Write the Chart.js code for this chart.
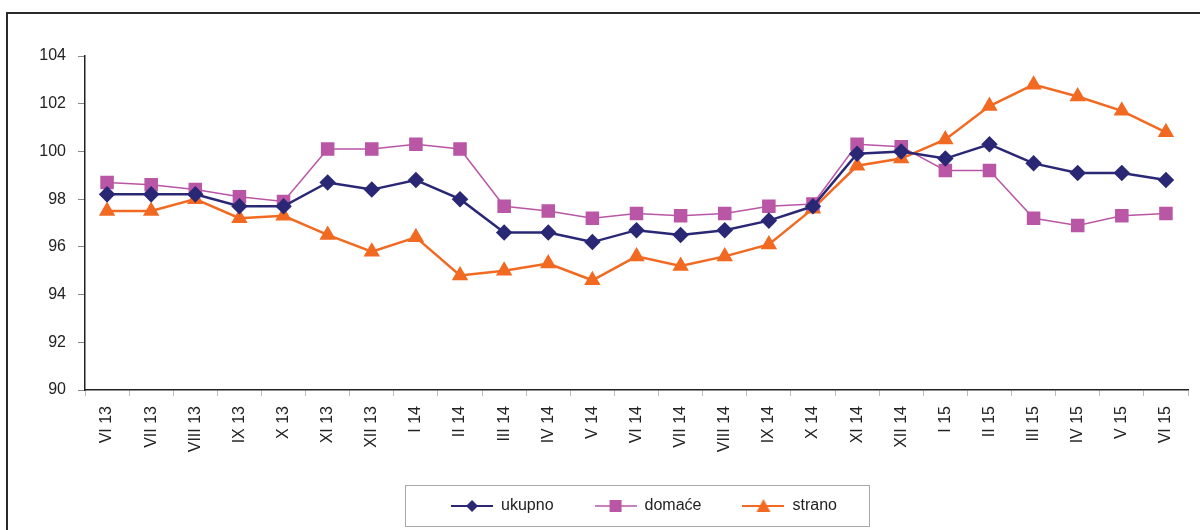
<!DOCTYPE html>
<html>
<head>
<meta charset="utf-8">
<script src="https://cdn.jsdelivr.net/npm/chart.js@4.4.1/dist/chart.umd.min.js"></script>
<style>
  body { margin: 0; background: #fff; }
  #wrap { position: relative; width: 1200px; height: 530px; overflow: hidden; }
  #frame { position: absolute; left: 6px; top: 12px; width: 1200px; height: 600px; border: 2px solid #2a2a2a; box-sizing: border-box; }
  #chart { position: absolute; left: 0; top: 0; }
</style>
</head>
<body>
<div id="wrap">
  <div id="frame"></div>
  <canvas id="chart" width="1200" height="530"></canvas>
</div>
<script>
const months = ['VI 13', 'VII 13', 'VIII 13', 'IX 13', 'X 13', 'XI 13', 'XII 13', 'I 14', 'II 14', 'III 14', 'IV 14', 'V 14',
    'VI 14', 'VII 14', 'VIII 14', 'IX 14', 'X 14', 'XI 14', 'XII 14', 'I 15', 'II 15', 'III 15', 'IV 15', 'V 15', 'VI 15'];

const ukupno = [98.2, 98.2, 98.2, 97.7, 97.7, 98.7, 98.4, 98.8, 98.0, 96.6, 96.6, 96.2,
    96.7, 96.5, 96.7, 97.1, 97.7, 99.9, 100.0, 99.7, 100.3, 99.5, 99.1, 99.1, 98.8];
const domace = [98.7, 98.6, 98.4, 98.1, 97.9, 100.1, 100.1, 100.3, 100.1, 97.7, 97.5, 97.2,
    97.4, 97.3, 97.4, 97.7, 97.8, 100.3, 100.2, 99.2, 99.2, 97.2, 96.9, 97.3, 97.4];
const strano = [97.5, 97.5, 98.0, 97.2, 97.3, 96.5, 95.8, 96.4, 94.8, 95.0, 95.3, 94.6,
    95.6, 95.2, 95.6, 96.1, 97.6, 99.4, 99.7, 100.5, 101.9, 102.8, 102.3, 101.7, 100.8];

const colors = { ukupno: '#2a2875', domace: '#b956a5', strano: '#f26a22' };

// small legend icon: line with marker in the middle
function legendIcon(color, style, lineW) {
    const c = document.createElement('canvas');
    c.width = 42; c.height = 14;
    const g = c.getContext('2d');
    g.strokeStyle = color; g.lineWidth = lineW;
    g.beginPath(); g.moveTo(0, 7); g.lineTo(42, 7); g.stroke();
    g.fillStyle = color;
    g.beginPath();
    if (style === 'diamond') {
        g.moveTo(21, 1); g.lineTo(27, 7); g.lineTo(21, 13); g.lineTo(15, 7);
    } else if (style === 'square') {
        g.rect(15, 1, 12, 12);
    } else {
        g.moveTo(21, 0); g.lineTo(28, 13); g.lineTo(14, 13);
    }
    g.closePath(); g.fill();
    return c;
}

const icons = [
    legendIcon(colors.ukupno, 'diamond', 2),
    legendIcon(colors.domace, 'square', 1.5),
    legendIcon(colors.strano, 'triangle', 2)
];

// nudge the legend to the right and frame it like the original
const legendBox = {
    id: 'legendBox',
    afterLayout(chart) {
        chart.legend.left += 50;
        chart.legend.right += 50;
    },
    afterDraw(chart) {
        const boxes = chart.legend.legendHitBoxes;
        if (!boxes || !boxes.length) return;
        const ctx = chart.ctx;
        const left = boxes[0].left - 46;
        const midY = boxes[0].top + boxes[0].height / 2;
        ctx.save();
        ctx.strokeStyle = '#a8a8a8';
        ctx.lineWidth = 1;
        ctx.strokeRect(Math.round(left) + 0.5, Math.round(midY - 21) + 0.5, 464, 41);
        ctx.restore();
    }
};

new Chart(document.getElementById('chart'), {
    type: 'line',
    data: {
        labels: months,
        datasets: [{
            label: 'ukupno',
            data: ukupno,
            borderColor: colors.ukupno,
            backgroundColor: colors.ukupno,
            borderWidth: 2.5,
            pointStyle: 'rectRot',
            pointRadius: 6.5,
            pointHoverRadius: 6.5
        }, {
            label: 'domaće',
            data: domace,
            borderColor: colors.domace,
            backgroundColor: colors.domace,
            borderWidth: 1.5,
            pointStyle: 'rect',
            pointRadius: 8.5,
            pointHoverRadius: 8.5
        }, {
            label: 'strano',
            data: strano,
            borderColor: colors.strano,
            backgroundColor: colors.strano,
            borderWidth: 2.5,
            pointStyle: 'triangle',
            pointRadius: 7,
            pointHoverRadius: 7
        }]
    },
    options: {
        responsive: false,
        animation: false,
        layout: {
            padding: { left: 0, right: 12, top: 56, bottom: 6 }
        },
        plugins: {
            legend: {
                position: 'bottom',
                labels: {
                    usePointStyle: true,
                    pointStyleWidth: 42,
                    padding: 41,
                    color: '#222',
                    font: { family: 'Liberation Sans, Arial', size: 16 },
                    generateLabels: chart => chart.data.datasets.map((ds, i) => ({
                        text: ds.label,
                        pointStyle: icons[i],
                        fillStyle: ds.borderColor,
                        strokeStyle: ds.borderColor,
                        lineWidth: 0,
                        datasetIndex: i,
                        fontColor: '#222'
                    }))
                }
            },
            tooltip: { enabled: false }
        },
        scales: {
            x: {
                offset: true,
                grid: {
                    offset: true,
                    drawOnChartArea: false,
                    drawTicks: true,
                    tickLength: 6,
                    color: '#bbbbbb'
                },
                border: { color: '#222', width: 1.5 },
                ticks: {
                    autoSkip: false,
                    minRotation: 90,
                    maxRotation: 90,
                    padding: 10,
                    color: '#222',
                    font: { family: 'Liberation Sans, Arial', size: 16 }
                },
                afterFit: s => {
                    s.height = 530 - 6 - s.chart.legend.height - 390;
                }
            },
            y: {
                min: 90,
                max: 104,
                ticks: {
                    stepSize: 2,
                    padding: 12,
                    color: '#222',
                    font: { family: 'Liberation Sans, Arial', size: 16 }
                },
                grid: {
                    drawOnChartArea: false,
                    drawTicks: true,
                    tickLength: 7,
                    color: '#888'
                },
                border: { color: '#222', width: 1.5 },
                afterFit: s => { s.width = 85; }
            }
        }
    },
    plugins: [legendBox]
});
</script>
</body>
</html>
